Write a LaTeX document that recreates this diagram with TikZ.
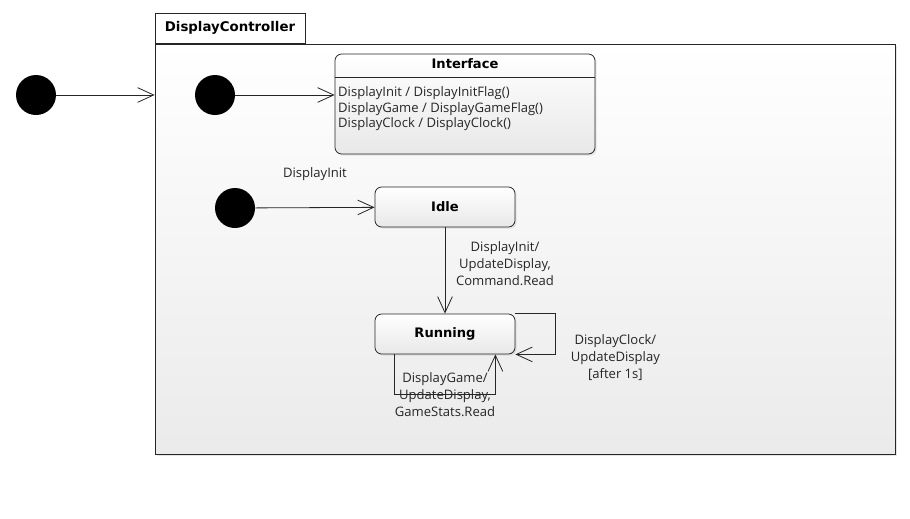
\documentclass[tikz,border=0pt]{standalone}
\usepackage{fontspec}
\setmainfont{Open Sans}
\newfontfamily\boldfont{DejaVu Sans}
\usetikzlibrary{arrows.meta,positioning,shadows}

\begin{document}
\begin{tikzpicture}[x=0.75pt, y=-0.75pt,
  line/.style={draw=black!85, line width=0.6pt},
  state/.style={line, rounded corners=5pt, top color=white, bottom color=black!9,
    minimum width=105pt, minimum height=30pt, inner sep=0pt,
    font=\boldfont\bfseries\fontsize{9.8}{11}\selectfont,
    drop shadow={shadow xshift=1.2pt, shadow yshift=-1.2pt, opacity=0.18}},
  initial/.style={circle, fill=black, minimum size=30pt, inner sep=0pt},
  trans/.style={line, -{Straight Barb[length=12pt, width=11pt, line width=0.6pt]}},
  lbl/.style={font=\fontsize{9.8}{12.7}\selectfont, align=center, text=black!85}]
  \useasboundingbox (0,0) rectangle (910,518);
  % Package frame
  \node[line, top color=white, bottom color=black!8, minimum width=555pt,
    minimum height=307.5pt, inner sep=0pt,
    drop shadow={shadow xshift=1.5pt, shadow yshift=-1.5pt, opacity=0.2}]
    (ctrl) at (525,249) {};
  \node[line, fill=white, anchor=south west, minimum width=112.5pt,
    minimum height=22.5pt, inner sep=0pt,
    font=\boldfont\bfseries\fontsize{10}{11}\selectfont]
    (ctrltab) at (ctrl.north west) {DisplayController};
  % Initial states
  \node[initial] (init0) at (36,95) {};
  \node[initial] (init1) at (215,95) {};
  \node[initial] (init2) at (235,208) {};
  % States
  \node[state, minimum width=195pt, minimum height=75pt] (iface) at (465,104) {};
  \node[font=\boldfont\bfseries\fontsize{9.8}{11}\selectfont, inner sep=0pt]
    (ifacetitle) at ([yshift=-7.5pt]iface.north) {Interface};
  \draw[line] ([yshift=-18pt]iface.north west) -- ([yshift=-18pt]iface.north east);
  \node[lbl, align=left, anchor=north west, inner sep=0pt,
    font=\fontsize{9.8}{11.8}\selectfont]
    (ifacebody) at ([xshift=2.5pt, yshift=-24.5pt]iface.north west)
    {DisplayInit / DisplayInitFlag()\\
     DisplayGame / DisplayGameFlag()\\
     DisplayClock / DisplayClock()};
  \node[state] (idle) at (445,207) {Idle};
  \node[state] (running) at (445,334) {Running};
  % Transitions
  \draw[trans] (init0) -- (init0 -| ctrl.west);
  \draw[trans] (init1) -- (init1 -| iface.west);
  \draw[trans] (init2) -- (idle)
    node[lbl, midway, yshift=25pt] {DisplayInit};
  \draw[trans] (idle) -- (running)
    node[lbl, midway, xshift=45pt, yshift=5pt]
    {DisplayInit/\\UpdateDisplay,\\Command.Read};
  \draw[trans] (running.north east) -- ++(40,0) |- (running.south east)
    node[lbl, pos=0.25, xshift=45pt, yshift=-17.5pt]
    {DisplayClock/\\UpdateDisplay\\{[after 1s]}};
  \draw[trans] ([xshift=15pt]running.south west) -- ++(0,40)
    -| ([xshift=-15pt]running.south east)
    node[lbl, pos=0.25] {DisplayGame/\\UpdateDisplay,\\GameStats.Read};
\end{tikzpicture}
\end{document}
